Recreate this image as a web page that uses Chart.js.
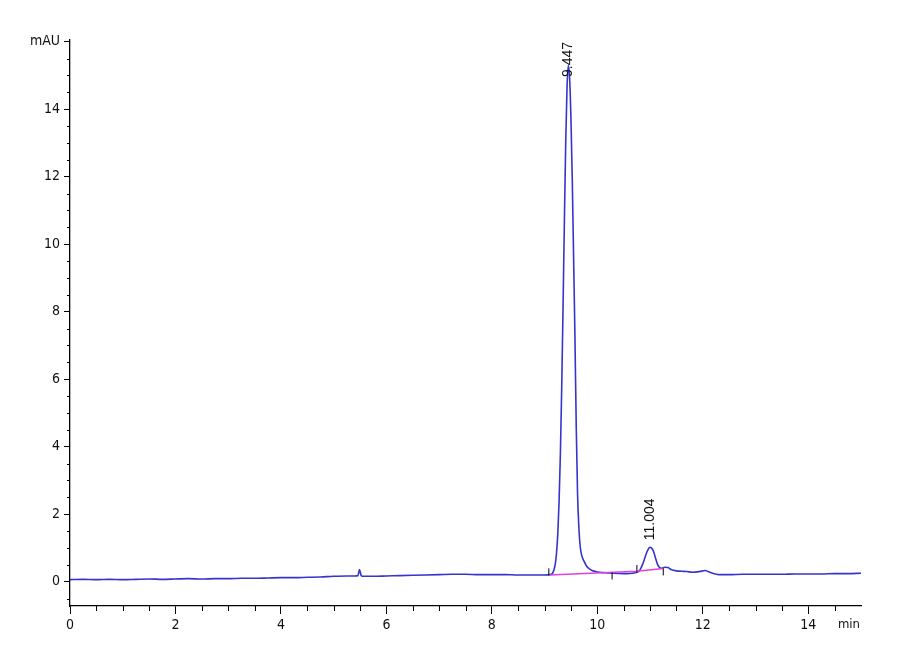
<!DOCTYPE html>
<html>
<head>
<meta charset="utf-8">
<script src="https://cdn.jsdelivr.net/npm/chart.js@4"></script>
<style>
  body { margin: 0; background: #fff; }
  canvas { display: block; }
</style>
</head>
<body>
<canvas id="myChart" width="900" height="660"></canvas>
<script>
// retention time (min) and signal (mAU)
let times = [
    0, 0.25, 0.5, 0.75, 1.0, 1.25, 1.5, 1.75, 2.0, 2.25, 2.5, 2.75, 3.0, 3.25, 3.5, 3.75,
    4.0, 4.25, 4.5, 4.75, 5.0, 5.25, 5.40, 5.46, 5.49, 5.52, 5.55, 5.75, 6.0, 6.25, 6.5, 6.75,
    7.0, 7.25, 7.5, 7.75, 8.0, 8.25, 8.5, 8.75, 9.0, 9.10, 9.15, 9.20, 9.225, 9.25, 9.275,
    9.30, 9.325, 9.35, 9.375, 9.40, 9.425, 9.45, 9.475, 9.50, 9.525, 9.55, 9.575, 9.60,
    9.625, 9.65, 9.675, 9.70, 9.75, 9.80, 9.85, 9.90, 10.0, 10.1, 10.2, 10.3, 10.5, 10.7,
    10.78, 10.82, 10.86, 10.90, 10.94, 10.98, 11.00, 11.02, 11.06, 11.10, 11.14, 11.18,
    11.22, 11.28, 11.34, 11.40, 11.50, 11.60, 11.70, 11.80, 11.90, 12.0, 12.05, 12.10,
    12.20, 12.30, 12.5, 12.75, 13.0, 13.25, 13.5, 13.75, 14.0, 14.25, 14.5, 14.75, 15.0
]
let signal = [
    0.06, 0.07, 0.06, 0.07, 0.06, 0.07, 0.08, 0.07, 0.08, 0.09, 0.08, 0.09, 0.09, 0.10, 0.10, 0.11,
    0.12, 0.12, 0.13, 0.14, 0.16, 0.17, 0.17, 0.18, 0.36, 0.19, 0.16, 0.16, 0.17, 0.18, 0.19, 0.20,
    0.21, 0.22, 0.22, 0.21, 0.21, 0.21, 0.20, 0.20, 0.20, 0.21, 0.25, 0.50, 0.83, 1.41, 2.39,
    3.82, 5.78, 8.16, 10.66, 12.97, 14.63, 15.30, 14.90, 13.70, 11.90, 9.60, 7.30, 4.60,
    2.60, 1.60, 1.05, 0.80, 0.60, 0.45, 0.38, 0.33, 0.29, 0.27, 0.26, 0.25, 0.24, 0.26,
    0.30, 0.38, 0.52, 0.70, 0.88, 1.00, 1.02, 1.01, 0.92, 0.72, 0.52, 0.42,
    0.40, 0.43, 0.42, 0.36, 0.32, 0.31, 0.30, 0.28, 0.29, 0.32, 0.33, 0.30,
    0.24, 0.21, 0.21, 0.22, 0.22, 0.22, 0.22, 0.23, 0.23, 0.23, 0.24, 0.24, 0.25
]

// integration baseline (magenta)
let baseTimes = [9.10, 10.75, 11.25]
let baseValues = [0.20, 0.31, 0.39]

// peak start / end markers
let markTimes = [9.08, 10.28, 10.75, 11.25]
let markValues = [0.29, 0.17, 0.39, 0.29]

// peak labels
let peakTimes = [9.447, 11.004]
let peakHeights = [15.30, 1.02]
let peakLabels = ["9.447", "11.004"]

let xMajor = [0, 2, 4, 6, 8, 10, 12, 14]
let yMajor = [0, 2, 4, 6, 8, 10, 12, 14, 16]

const tickFont = { family: "'Liberation Sans Narrow', 'DejaVu Sans Condensed', 'Liberation Sans', sans-serif", size: 14 }

// minor ticks, the "min" unit and the rotated peak labels
const extras = {
    id: 'extras',
    afterDraw(chart) {
        const ctx = chart.ctx
        const xs = chart.scales.x
        const ys = chart.scales.y
        const area = chart.chartArea
        ctx.save()
        ctx.strokeStyle = '#000'
        ctx.lineWidth = 1
        ctx.beginPath()
        for (let v = 0.5; v < 15; v += 0.5) {
            if (v % 2 == 0) continue
            let px = Math.round(xs.getPixelForValue(v)) + 0.5
            ctx.moveTo(px, area.bottom)
            ctx.lineTo(px, area.bottom + 5)
        }
        for (let v = -0.5; v < 16; v += 0.5) {
            if (v % 2 == 0) continue
            let py = Math.round(ys.getPixelForValue(v)) + 0.5
            ctx.moveTo(area.left, py)
            ctx.lineTo(area.left - 3, py)
        }
        ctx.stroke()

        ctx.fillStyle = '#111'
        ctx.font = "13px " + tickFont.family
        ctx.textAlign = 'right'
        ctx.textBaseline = 'middle'
        ctx.fillText('min', area.right - 1, area.bottom + 19)

        ctx.font = "14px 'Liberation Sans', Arial, sans-serif"
        ctx.textAlign = 'left'
        for (let i = 0; i < peakTimes.length; i++) {
            let px = xs.getPixelForValue(peakTimes[i])
            let py = ys.getPixelForValue(peakHeights[i])
            let w = ctx.measureText(peakLabels[i]).width
            let start = Math.max(py - 7, area.top + w + 2)
            ctx.save()
            ctx.translate(px, start)
            ctx.rotate(-Math.PI / 2)
            ctx.fillText(peakLabels[i], 0, 0)
            ctx.restore()
        }
        ctx.restore()
    }
}

function initChart() {
    const ctx = document.getElementById('myChart')
    new Chart(ctx, {
        type: 'line',
        data: {
            datasets: [
                {
                    label: 'signal',
                    data: times.map((t, i) => ({ x: t, y: signal[i] })),
                    borderColor: '#3535cc',
                    borderWidth: 1.6,
                    pointRadius: 0,
                    cubicInterpolationMode: 'monotone',
                    order: 2
                },
                {
                    label: 'baseline',
                    data: baseTimes.map((t, i) => ({ x: t, y: baseValues[i] })),
                    borderColor: '#e040e0',
                    borderWidth: 1.5,
                    pointRadius: 0,
                    order: 1
                },
                {
                    label: 'marks',
                    type: 'scatter',
                    data: markTimes.map((t, i) => ({ x: t, y: markValues[i] })),
                    pointStyle: 'line',
                    rotation: 90,
                    radius: 3.5,
                    borderColor: '#000',
                    borderWidth: 1,
                    order: 0
                }
            ]
        },
        options: {
            responsive: false,
            animation: false,
            layout: { padding: { top: 40, right: 39, bottom: 0, left: 0 } },
            plugins: { legend: { display: false }, tooltip: { enabled: false } },
            scales: {
                x: {
                    type: 'linear',
                    min: 0,
                    max: 15,
                    afterBuildTicks: axis => { axis.ticks = xMajor.map(v => ({ value: v })) },
                    afterFit: axis => { axis.height = 54 },
                    grid: { drawOnChartArea: false, tickLength: 8, color: '#000' },
                    border: { color: '#000', width: 1.3 },
                    ticks: { color: '#111', font: tickFont, padding: 3, maxRotation: 0 }
                },
                y: {
                    min: -0.72,
                    max: 16.05,
                    afterBuildTicks: axis => { axis.ticks = yMajor.map(v => ({ value: v })) },
                    afterFit: axis => { axis.width = 70 },
                    grid: { drawOnChartArea: false, tickLength: 6, color: '#000' },
                    border: { color: '#000', width: 1.3 },
                    ticks: {
                        color: '#111',
                        font: tickFont,
                        padding: 4,
                        callback: v => v == 16 ? 'mAU' : String(v)
                    }
                }
            }
        },
        plugins: [extras]
    })
}

window.onload = () => {
    initChart()
}
</script>
</body>
</html>
